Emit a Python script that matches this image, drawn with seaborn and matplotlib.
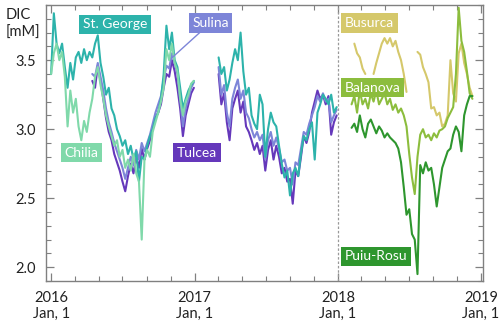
import pandas as pd
import numpy as np
import matplotlib
matplotlib.use("Agg")
import matplotlib.pyplot as plt
import matplotlib.dates as mdates
from matplotlib.ticker import MultipleLocator, FuncFormatter
import seaborn as sns

N = None

# weekly values, Danube sites start 2016-01-01, Danube delta lakes start 2018-01-01
chilia = [3.40, 3.55, 3.62, 3.50, 3.56, 3.38, 3.02, 3.28, 3.12, 3.22,
          3.02, 2.92, 3.06, 2.98, 3.12, 3.22, 3.38, 3.45, 3.32, 3.22,
          3.10, 3.02, 2.95, 2.88, 2.92, 2.80, 2.85, 2.72, 2.78, 2.70,
          2.82, 2.68, 2.62, 2.20, 2.78, 2.85, 2.80, 2.98, 3.05, 3.12,
          3.20, 3.30, 3.58, 3.50, 3.62, 3.48, 3.42, 3.22, 3.10, 3.20,
          3.25, 3.33, 3.35]

st_george = [3.40, 3.84, 3.62, 3.55, 3.62, 3.45, 3.30, 3.48, 3.36, 3.52,
             3.56, 3.48, 3.58, 3.50, 3.56, 3.52, 3.62, 3.68, 3.48, 3.38,
             3.25, 3.30, 3.15, 3.10, 3.00, 2.95, 2.88, 2.92, 2.82, 2.88,
             2.78, 2.84, 2.62, 2.80, 2.78, 2.88, 2.95, 3.00, 3.08, 3.12,
             3.22, 3.40, 3.75, 3.58, 3.70, 3.50, 3.45, 3.30, 3.15, 3.22,
             3.28, 3.32, 3.35,
             N, N, N, N, N, N, N, N,
             3.52, 3.40, 3.45, 3.28, 3.36, 3.48, 3.58, 3.50, 3.70, 3.42,
             3.25, 3.30, 3.10, 3.04, 3.00, 3.25, 3.18, 2.80, 3.00, 3.12,
             3.05, 3.02, 2.88, 2.75, 2.65, 2.70, 2.52, 2.68, 2.72, 2.66,
             2.82, 2.95, 2.92, 3.00, 3.05, 2.78, 3.12, 3.18, 3.25, 3.22,
             3.18, 3.25, 3.12, 3.16]

tulcea = [N] * 15 + [
          3.35, 3.30, 3.46, 3.35, 3.22, 3.08, 2.98, 2.92, 2.82, 2.76,
          2.70, 2.62, 2.55, 2.66, 2.75, 2.68, 2.80, 2.72, 2.86, 2.78,
          2.86, 2.92, 3.00, 3.08, 3.12, 3.18, 3.30, 3.40, 3.38, 3.50,
          3.42, 3.30, 3.15, 2.95, 3.10, 3.18, 3.26, 3.30,
          N, N, N, N, N, N, N, N,
          3.40, 3.18, 3.26, 3.05, 2.92, 3.15, 3.22, 3.28, 3.12, 3.20,
          3.02, 2.98, 2.92, 2.85, 2.90, 2.82, 2.88, 2.70, 2.85, 2.92,
          2.78, 2.88, 2.80, 2.68, 2.72, 2.62, 2.64, 2.46, 2.70, 2.66,
          2.80, 2.95, 2.90, 2.98, 3.12, 3.20, 3.28, 3.22, 3.25, 3.18,
          3.24, 2.96, 3.05, 3.10]

sulina = [N] * 15 + [
          3.40, 3.38, 3.48, 3.38, 3.28, 3.15, 3.05, 2.98, 2.90, 2.84,
          2.78, 2.72, 2.64, 2.72, 2.80, 2.74, 2.85, 2.78, 2.90, 2.84,
          2.90, 2.96, 3.04, 3.12, 3.18, 3.24, 3.36, 3.46, 3.44, 3.55,
          3.48, 3.40, 3.22, 3.02, 3.15, 3.22, 3.30, 3.34,
          N, N, N, N, N, N, N, N,
          3.45, 3.25, 3.32, 3.12, 3.02, 3.22, 3.30, 3.36, 3.22, 3.28,
          3.12, 3.08, 3.00, 2.94, 2.98, 2.92, 2.96, 2.78, 2.92, 2.98,
          2.88, 2.94, 2.86, 2.76, 2.78, 2.70, 2.72, 2.60, 2.76, 2.74,
          2.86, 2.98, 2.96, 3.04, 3.10, 3.16, 3.24, 3.20, 3.26, 3.20,
          3.22, 3.05, 3.10, 3.14]

busurca = [N] * 6 + [
           3.62, 3.55, 3.52, 3.44, 3.40, N, N, 3.40, 3.48, 3.55,
           3.62, 3.66, 3.62, 3.66, 3.60, 3.64, 3.56, 3.50, 3.40, 3.27,
           N, N, N, 3.56, 3.54, 3.45, 3.40, 3.34, 3.15, 3.16,
           3.10, 3.12, 3.02, 3.04, 3.10, 3.50, 3.26, 3.20, 3.55, 3.62,
           3.48, 3.40, 3.30, 3.24]

balanova = [N] * 5 + [
            3.18, 3.24, 3.12, 3.28, 3.18, 3.22, 3.15, 3.26, 3.20, 3.28,
            3.18, 3.22, 3.26, 3.18, 3.22, 3.14, 3.18, 3.12, 3.15, 3.10,
            3.02, 2.82, 2.65, 2.53, 2.80, 2.96, 3.00, 2.94, 2.96, 2.92,
            2.97, 2.94, 2.99, 3.00, 3.02, 3.08, 3.12, 3.16, 3.40, 3.88,
            3.64, 3.56, 3.42, 3.26, 3.22]

puiu_rosu = [N] * 5 + [
             3.01, 3.04, 2.98, 3.10, 3.00, 2.94, 3.04, 3.07, 3.02, 2.97,
             3.02, 2.99, 2.94, 2.97, 2.94, 2.92, 2.90, 2.86, 2.76, 2.58,
             2.38, 2.42, 2.24, 2.20, 1.95, 2.74, 2.68, 2.76, 2.70, 2.72,
             2.60, 2.44, 2.58, 2.72, 2.78, 2.84, 2.86, 2.96, 3.02, 2.98,
             2.84, 3.10, 3.18, 3.24, 3.24]

sites = {
    "Tulcea": (tulcea, "2016-01-01", "#6538bb"),
    "Sulina": (sulina, "2016-01-01", "#7d85d8"),
    "St. George": (st_george, "2016-01-01", "#2db3ab"),
    "Chilia": (chilia, "2016-01-01", "#80d9aa"),
    "Busurca": (busurca, "2018-01-01", "#d5c86b"),
    "Balanova": (balanova, "2018-01-01", "#8cbd3d"),
    "Puiu-Rosu": (puiu_rosu, "2018-01-01", "#2e962e"),
}

frames = []
for name, (vals, start, col) in sites.items():
    d = pd.DataFrame({"date": pd.date_range(start, periods=len(vals), freq="7D"),
                      "dic": pd.to_numeric(pd.Series(vals, dtype="object"))})
    d["seg"] = d["dic"].isna().cumsum()
    d = d.dropna()
    d["site"] = name
    frames.append(d)
df = pd.concat(frames, ignore_index=True)

sns.set_style("ticks")
plt.rcParams["font.family"] = ["Lato", "DejaVu Sans"]

fig = plt.figure(figsize=(5.0, 3.28), dpi=100)
ax = fig.add_axes([0.092, 0.1433, 0.874, 0.8415])

for name, (vals, start, col) in sites.items():
    sns.lineplot(data=df[df["site"] == name], x="date", y="dic", units="seg",
                 estimator=None, color=col, lw=1.5, ax=ax, legend=False)

ax.axvline(pd.Timestamp("2018-01-01"), color="#999999", lw=0.9, ls=(0, (2, 1.5)))

ax.set_xlim(pd.Timestamp("2015-12-19"), pd.Timestamp("2019-01-06"))
ax.set_ylim(1.9, 3.9)
ax.set_xlabel("")
ax.set_ylabel("")

ax.xaxis.set_major_locator(mdates.YearLocator())
ax.xaxis.set_minor_locator(mdates.MonthLocator(bymonth=[3, 5, 7, 9, 11]))
ax.xaxis.set_major_formatter(FuncFormatter(
    lambda v, p: f"{mdates.num2date(v).year}\nJan, 1"))
ax.yaxis.set_major_locator(MultipleLocator(0.5))
ax.yaxis.set_minor_locator(MultipleLocator(0.1))
ax.yaxis.set_major_formatter(FuncFormatter(lambda v, p: f"{v:.1f}"))

ax.tick_params(which="both", direction="in", top=True, right=True,
               color="#808080", labelsize=10.5, labelcolor="#222222")
ax.tick_params(which="major", length=6, width=0.9, pad=7)
ax.tick_params(which="minor", length=3.5, width=0.8)
for s in ax.spines.values():
    s.set_color("#808080")
    s.set_linewidth(1.0)

fig.text(0.012, 0.975, "DIC\n[mM]", fontsize=10.5, va="top", ha="left",
         color="#222222", linespacing=1.3)

def label(txt, x, y, col, ha="center"):
    ax.text(pd.Timestamp(x), y, txt, color="white", fontsize=10, ha=ha, va="center",
            bbox=dict(boxstyle="square,pad=0.26", fc=col, ec="none"))

label("St. George", "2016-06-12", 3.76, "#2db3ab")
label("Chilia", "2016-03-19", 2.83, "#80d9aa")
label("Tulcea", "2017-01-07", 2.83, "#6538bb")
ax.annotate("Sulina", xy=(pd.Timestamp("2016-11-05"), 3.52),
            xytext=(pd.Timestamp("2017-02-10"), 3.77), color="white", fontsize=10,
            ha="center", va="center",
            bbox=dict(boxstyle="square,pad=0.26", fc="#7d85d8", ec="none"),
            arrowprops=dict(arrowstyle="-", color="#7d85d8", lw=1.0,
                            shrinkA=0, shrinkB=0))
label("Busurca", "2018-01-19", 3.77, "#d5c86b", ha="left")
label("Balanova", "2018-01-19", 3.30, "#8cbd3d", ha="left")
label("Puiu-Rosu", "2018-01-19", 2.08, "#2e962e", ha="left")

fig.savefig("out.png", dpi=100)
